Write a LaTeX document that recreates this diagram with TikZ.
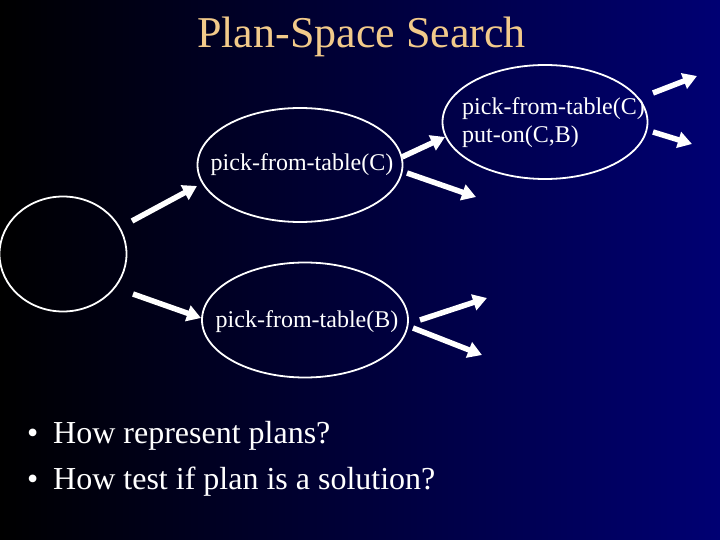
\documentclass[tikz,border=0pt]{standalone}
\usepackage{fontspec}
\setmainfont{Liberation Serif}
\usetikzlibrary{shapes.geometric,arrows.meta,calc}
\definecolor{titlecol}{RGB}{242,202,138}
\definecolor{bgmid}{RGB}{0,0,85}
\definecolor{bgblue}{RGB}{0,0,115}
\begin{document}
\begin{tikzpicture}[x=1pt,y=-1pt,
  bub/.style={draw=white,line width=1.8pt,ellipse,inner sep=0pt},
  arr/.style={white,line width=5.5pt,-{Triangle[length=14pt,width=16pt]}},
  lbl/.style={text=white,inner sep=0pt,font=\fontsize{24}{28}\selectfont},
  bullettext/.style={text=white,inner sep=0pt,anchor=base west,font=\fontsize{32}{38}\selectfont}]
\shade[left color=black,middle color=bgmid,right color=bgblue] (0,0) rectangle (720,540);
\useasboundingbox (0,0) rectangle (720,540);

\node[anchor=base west,inner sep=0pt,text=titlecol,font=\fontsize{44}{50}\selectfont] (title) at (197,48) {Plan-Space Search};

\node[bub,minimum width=127pt,minimum height=115pt] (root) at (63,254) {};
\node[bub,minimum width=205pt,minimum height=114pt,
  label={[lbl,xshift=2pt]center:pick-from-table(C)}] (e1) at (300,165) {};
\node[bub,minimum width=206pt,minimum height=115pt,
  label={[lbl,xshift=2pt,yshift=-2pt]center:pick-from-table(B)}] (e3) at (305,320) {};
\node[bub,minimum width=205pt,minimum height=114pt] (e2) at (545,122) {};
\node[lbl,anchor=base west,align=left] (e2t) at (462,143) {pick-from-table(C)\\put-on(C,B)};

\coordinate (c4) at (476,197);
\coordinate (c5) at (487,298);
\coordinate (c6) at (482,355);
\coordinate (c7) at (697,76);
\coordinate (c8) at (692,144);

\draw[arr] ($(root.center)+(69,-33)$) -- ($(e1.center)+(-103,21)$);
\draw[arr] ($(root.center)+(70,40)$) -- ($(e3.center)+(-104,-2)$);
\draw[arr] ($(e1.center)+(102,-8)$) -- ($(e2.center)+(-100,15)$);
\draw[arr] ($(e1.center)+(107,8)$) -- (c4);
\draw[arr] ($(e3.center)+(115,0)$) -- (c5);
\draw[arr] ($(e3.center)+(108,8)$) -- (c6);
\draw[arr] ($(e2.center)+(108,-29)$) -- (c7);
\draw[arr] ($(e2.center)+(108,10)$) -- (c8);

\node[bullettext] (d1) at (27,443) {\textbullet};
\node[bullettext] (b1) at (53,443) {How represent plans?};
\node[bullettext] (d2) at (27,489) {\textbullet};
\node[bullettext] (b2) at (53,489) {How test if plan is a solution?};
\end{tikzpicture}
\end{document}
